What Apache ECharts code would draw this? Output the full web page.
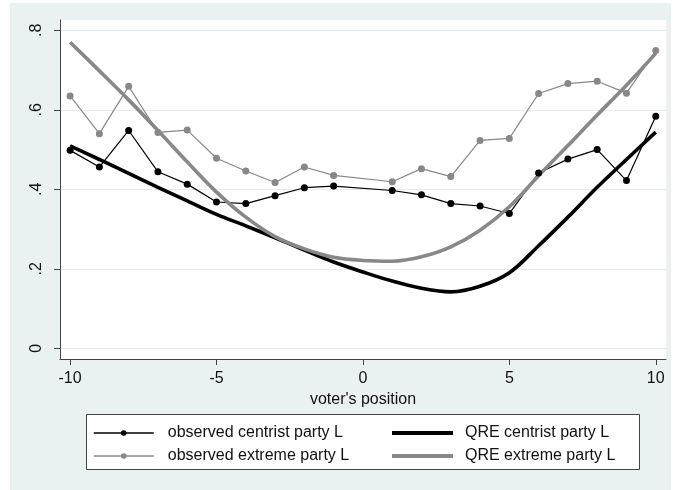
<!DOCTYPE html>
<html><head><meta charset="utf-8">
<script src="https://cdn.jsdelivr.net/npm/echarts@6/dist/echarts.min.js"></script>
<style>html,body{margin:0;padding:0;background:#fff}#c{width:673px;height:490px}</style>
</head><body><div id="c"></div>
<script>
// ---- data ----
const obsX = [-10,-9,-8,-7,-6,-5,-4,-3,-2,-1,1,2,3,4,5,6,7,8,9,10];
const obsCentrist = [0.498,0.456,0.548,0.444,0.413,0.368,0.364,0.384,0.404,0.408,0.397,0.386,0.364,0.358,0.339,0.441,0.476,0.500,0.422,0.584];
const obsExtreme  = [0.635,0.540,0.659,0.543,0.549,0.478,0.446,0.417,0.456,0.435,0.419,0.452,0.432,0.523,0.528,0.641,0.666,0.672,0.642,0.749];
const qreX = [-10,-9,-8,-7,-6,-5,-4,-3,-2,-1,0,1,2,3,4,5,6,7,8,9,10];
const qreCentrist = [0.509,0.475,0.440,0.405,0.371,0.337,0.308,0.278,0.247,0.217,0.192,0.169,0.151,0.142,0.156,0.190,0.258,0.330,0.405,0.475,0.544];
const qreExtreme  = [0.770,0.698,0.625,0.548,0.469,0.393,0.330,0.281,0.250,0.229,0.221,0.219,0.230,0.255,0.297,0.356,0.434,0.510,0.587,0.662,0.742];
const xTicks = [-10,-5,0,5,10];
const yTicks = [0,0.2,0.4,0.6,0.8];
const yTickLabels = ['0','.2','.4','.6','.8'];
const names = ['observed centrist party L','observed extreme party L','QRE centrist party L','QRE extreme party L'];
const xTitle = "voter's position";

const pairs = (xs, ys) => xs.map((x, i) => [x, ys[i]]);
const FONT = 'Liberation Sans, Arial, Helvetica, sans-serif';
const GREY = '#888888';
const BG = '#eaf1f3';

const chart = echarts.init(document.getElementById('c'), null, {renderer: 'canvas'});
chart.setOption({
  animation: false,
  backgroundColor: '#ffffff',
  textStyle: {fontFamily: FONT},
  graphic: [
    {type: 'rect', z: -100, silent: true, shape: {x: 10, y: 3, width: 661, height: 487}, style: {fill: BG}},
    {type: 'rect', z: 1, silent: true, shape: {x: 86.5, y: 414.5, width: 553, height: 55}, style: {fill: '#ffffff', stroke: '#444', lineWidth: 1}}
  ],
  grid: {left: 60, right: 7, top: 20, bottom: 131, show: true, backgroundColor: '#ffffff', borderWidth: 0},
  xAxis: {
    type: 'value', min: -10.345, max: 10.35,
    name: xTitle, nameLocation: 'middle', nameGap: 23,
    nameTextStyle: {fontSize: 16, color: '#111', fontFamily: FONT},
    axisLine: {show: true, onZero: false, lineStyle: {color: '#444', width: 1}},
    axisTick: {show: true, length: 6, customValues: xTicks, lineStyle: {color: '#444'}},
    axisLabel: {customValues: xTicks, fontSize: 16, color: '#111', margin: 12, fontFamily: FONT},
    splitLine: {show: false}
  },
  yAxis: {
    type: 'value', min: -0.027, max: 0.826,
    axisLine: {show: true, onZero: false, lineStyle: {color: '#444', width: 1}},
    axisTick: {show: true, length: 6, customValues: yTicks, lineStyle: {color: '#444'}},
    axisLabel: {
      customValues: yTicks, rotate: 90, fontSize: 16, color: '#111', margin: 15, fontFamily: FONT,
      formatter: v => { const i = yTicks.findIndex(t => Math.abs(t - v) < 1e-6); return i >= 0 ? yTickLabels[i] : ''; }
    },
    splitLine: {show: true, lineStyle: {color: '#e4eef1', width: 1}}
  },
  legend: [
    {
      data: [names[0], names[1]], orient: 'vertical', left: 93, top: 425, z: 5, padding: 0,
      itemWidth: 60, itemHeight: 7, itemGap: 7,
      lineStyle: {width: 1.5},
      textStyle: {fontSize: 16, lineHeight: 16, color: '#111', fontFamily: FONT, padding: [0, 0, 0, 9]}
    },
    {
      data: [{name: names[2], icon: 'rect'}, {name: names[3], icon: 'rect'}], orient: 'vertical', left: 392, top: 425, z: 5, padding: 0,
      itemWidth: 61, itemHeight: 4, itemGap: 7,
      textStyle: {fontSize: 16, lineHeight: 16, color: '#111', fontFamily: FONT, padding: [0, 0, 0, 7]}
    }
  ],
  series: [
    {name: names[0], type: 'line', data: pairs(obsX, obsCentrist), symbol: 'circle', symbolSize: 7,
     itemStyle: {color: '#000'}, lineStyle: {color: '#000', width: 1.2}},
    {name: names[1], type: 'line', data: pairs(obsX, obsExtreme), symbol: 'circle', symbolSize: 7,
     itemStyle: {color: GREY}, lineStyle: {color: GREY, width: 1.2}},
    {name: names[2], type: 'line', data: pairs(qreX, qreCentrist), symbol: 'none', smooth: 0.35,
     itemStyle: {color: '#000'}, lineStyle: {color: '#000', width: 3.6}},
    {name: names[3], type: 'line', data: pairs(qreX, qreExtreme), symbol: 'none', smooth: 0.35,
     itemStyle: {color: GREY}, lineStyle: {color: GREY, width: 3.6}}
  ]
});
</script>
</body></html>
